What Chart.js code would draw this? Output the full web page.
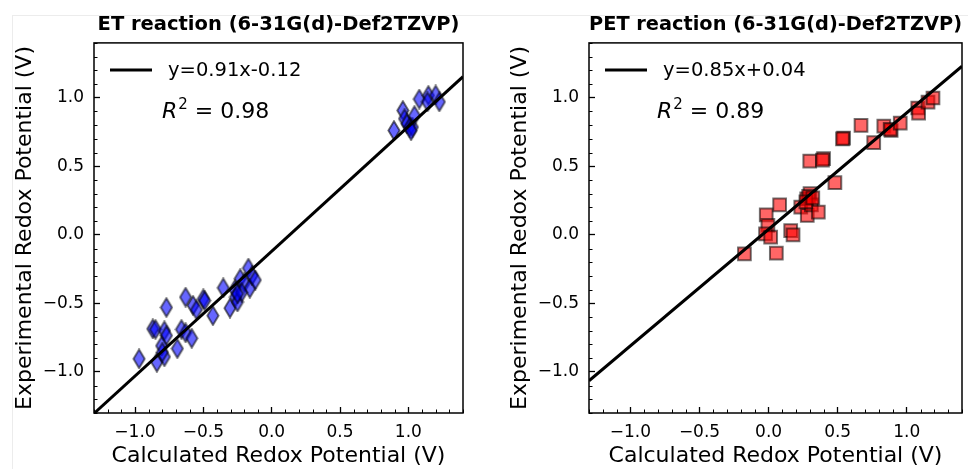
<!DOCTYPE html>
<html>
<head>
<meta charset="utf-8">
<script src="https://cdn.jsdelivr.net/npm/chart.js@4.4.1/dist/chart.umd.min.js"></script>
<style>
  html, body { margin: 0; padding: 0; background: #fff; }
  body { width: 968px; height: 469px; position: relative; overflow: hidden; }
  .frame { position: absolute; left: 12px; top: 15px; width: 970px; height: 460px; border: 1px solid #ececec; }
  .panel { position: absolute; top: 0; height: 469px; }
  #left { left: 0; width: 478px; }
  #right { left: 495px; width: 482px; }
</style>
</head>
<body>
<div class="frame"></div>
<div class="panel" id="left"><canvas id="etChart"></canvas></div>
<div class="panel" id="right"><canvas id="petChart"></canvas></div>
<script>
// Eixos (mesmos limites nos dois painéis)
const axisMin = -1.3;
const axisMax = 1.4;
const majorTicks = [-1.0, -0.5, 0.0, 0.5, 1.0];

// ET reaction: potencial calculado x experimental (V)
const etCalc = [-0.97, -0.84, -0.785, -0.87, -0.85, -0.77, -0.785, -0.77, -0.805, -0.80,
  -0.69, -0.66, -0.63, -0.585, -0.63, -0.575, -0.55, -0.50, -0.49, -0.43,
  -0.354, -0.305, -0.27, -0.265, -0.25, -0.23, -0.20, -0.17, -0.16, -0.143,
  -0.12, -0.22, -0.25,
  0.895, 0.96, 0.972, 0.99, 1.01, 1.03, 1.045, 1.02, 1.08, 1.147, 1.14, 1.20, 1.227];
const etExp = [-0.905, -0.93, -0.89, -0.686, -0.69, -0.53, -0.70, -0.735, -0.81, -0.857,
  -0.83, -0.69, -0.715, -0.755, -0.455, -0.515, -0.547, -0.467, -0.48, -0.59,
  -0.387, -0.535, -0.40, -0.455, -0.49, -0.32, -0.35, -0.243, -0.39, -0.297,
  -0.33, -0.42, -0.43,
  0.761, 0.907, 0.847, 0.81, 0.786, 0.786, 0.87, 0.76, 0.99, 1.017, 0.97, 1.02, 0.97];
const etFit = [0.91, -0.12]; // inclinação, intercepto
const etR2 = '0.98';

// PET reaction
const petCalc = [-0.175, 0.056, -0.017, -0.005, -0.022, 0.015, 0.08, 0.16, 0.177, 0.233,
  0.276, 0.30, 0.29, 0.28, 0.31, 0.36, 0.298, 0.398, 0.39, 0.48,
  0.543, 0.535, 0.669, 0.761, 0.834, 0.887, 0.88, 0.953, 1.08, 1.086,
  1.154, 1.19, 0.27, 0.32];
const petExp = [-0.139, -0.134, 0.146, 0.068, 0.007, -0.017, 0.219, 0.031, 0.0, 0.202,
  0.263, 0.30, 0.28, 0.141, 0.219, 0.166, 0.538, 0.555, 0.545, 0.38,
  0.706, 0.70, 0.798, 0.672, 0.793, 0.761, 0.77, 0.815, 0.925, 0.888,
  0.968, 0.998, 0.24, 0.27];
const petFit = [0.85, 0.04];
const petR2 = '0.89';

const FONT = 'DejaVu Sans';

function isMajor(v) {
  return majorTicks.some(m => Math.abs(m - v) < 1e-6);
}
function fmtTick(v) {
  const s = Math.abs(v).toFixed(1);
  return v < -1e-9 ? '\u2212' + s : s;
}
function fitText(fit) {
  return 'y=' + fit[0].toFixed(2) + 'x' + (fit[1] < 0 ? '-' : '+') + Math.abs(fit[1]).toFixed(2);
}

// diamante fino (marcador 'd' do matplotlib)
function diamondMarker() {
  const c = document.createElement('canvas');
  c.width = 14; c.height = 21;
  const g = c.getContext('2d');
  g.beginPath();
  g.moveTo(7, 1.2); g.lineTo(12.6, 10.5); g.lineTo(7, 19.8); g.lineTo(1.4, 10.5);
  g.closePath();
  g.fillStyle = 'rgba(0,0,255,0.6)';
  g.fill();
  g.strokeStyle = 'rgba(0,0,0,0.58)';
  g.lineWidth = 1.9;
  g.stroke();
  return c;
}

// moldura, ticks menores, legenda e R²
const panelDecor = {
  id: 'panelDecor',
  afterDatasetsDraw(chart, args, opts) {
    const a = chart.chartArea, ctx = chart.ctx;
    const xs = chart.scales.x, ys = chart.scales.y;
    ctx.save();
    ctx.strokeStyle = '#000';
    ctx.lineWidth = 1;
    ctx.beginPath();
    xs.ticks.forEach((t, i) => {
      if (isMajor(t.value)) return;
      const px = Math.round(xs.getPixelForTick(i)) + 0.5;
      ctx.moveTo(px, a.bottom); ctx.lineTo(px, a.bottom - 3.5);
    });
    ys.ticks.forEach((t, i) => {
      if (isMajor(t.value)) return;
      const py = Math.round(ys.getPixelForTick(i)) + 0.5;
      ctx.moveTo(a.left, py); ctx.lineTo(a.left + 3.5, py);
    });
    ctx.stroke();

    ctx.lineWidth = 1.5;
    ctx.strokeRect(a.left, a.top, a.right - a.left, a.bottom - a.top);

    // legenda
    ctx.lineWidth = 3;
    ctx.beginPath();
    ctx.moveTo(a.left + 16, a.top + 27);
    ctx.lineTo(a.left + 58, a.top + 27);
    ctx.stroke();
    ctx.fillStyle = '#000';
    ctx.font = '19.5px "' + FONT + '"';
    ctx.textBaseline = 'middle';
    ctx.fillText(opts.fitText, a.left + 74, a.top + 28);

    // R²
    ctx.textBaseline = 'alphabetic';
    let x = a.left + 68;
    const y = a.top + 75;
    ctx.font = 'italic 22px "' + FONT + '"';
    ctx.fillText('R', x, y);
    x += ctx.measureText('R').width + 1;
    ctx.font = '15px "' + FONT + '"';
    ctx.fillText('2', x, y - 9);
    x += ctx.measureText('2').width;
    ctx.font = '22px "' + FONT + '"';
    ctx.fillText(' = ' + opts.r2, x, y);
    ctx.restore();
  },
  afterDraw(chart) {
    const a = chart.chartArea;
    console.log(chart.canvas.id, 'area', a.left, a.top, a.right, a.bottom);
  }
};

function axisOptions(title, pos) {
  const horiz = pos === 'bottom';
  return {
    type: 'linear',
    position: pos,
    min: axisMin,
    max: axisMax,
    afterBuildTicks: scale => {
      const ticks = [];
      for (let k = Math.round(axisMin * 10); k <= Math.round(axisMax * 10); k++) ticks.push({ value: k / 10 });
      scale.ticks = ticks;
    },
    ticks: {
      autoSkip: false,
      maxRotation: 0,
      padding: horiz ? 15 : 16,
      color: '#000',
      font: { family: FONT, size: 17 },
      callback: v => isMajor(v) ? fmtTick(v) : ''
    },
    grid: {
      drawOnChartArea: false,
      drawTicks: true,
      tickLength: -6,
      tickWidth: 1.3,
      tickColor: ctx => (ctx.tick && isMajor(ctx.tick.value)) ? '#000' : 'rgba(0,0,0,0)'
    },
    border: { display: false },
    title: {
      display: true,
      text: title,
      color: '#000',
      font: { family: FONT, size: 22 },
      padding: horiz ? { top: 0, bottom: 0 } : { top: 12, bottom: 0 }
    },
    afterFit: scale => {
      if (horiz) scale.height = 56; else scale.width = 94;
    }
  };
}

function makeChart(id, title, calc, exp, fit, r2, marker, padRight) {
  const points = calc.map((x, i) => ({ x: x, y: exp[i] }));
  const fitLine = [axisMin, axisMax].map(x => ({ x: x, y: fit[0] * x + fit[1] }));
  const scatter = {
    type: 'scatter',
    data: points,
    order: 1,
    pointHoverRadius: 9
  };
  Object.assign(scatter, marker);
  new Chart(document.getElementById(id), {
    type: 'scatter',
    data: {
      datasets: [
        {
          type: 'line',
          data: fitLine,
          borderColor: '#000',
          borderWidth: 3,
          pointRadius: 0,
          fill: false,
          order: 0
        },
        scatter
      ]
    },
    options: {
      responsive: true,
      maintainAspectRatio: false,
      animation: false,
      layout: { padding: { left: 0, right: padRight, top: 0, bottom: 0 } },
      scales: {
        x: axisOptions('Calculated Redox Potential (V)', 'bottom'),
        y: axisOptions('Experimental Redox Potential (V)', 'left')
      },
      plugins: {
        legend: { display: false },
        tooltip: { enabled: true },
        title: {
          display: true,
          text: title,
          fullSize: false,
          color: '#000',
          font: { family: FONT, size: 19.5, weight: 'bold' },
          padding: { top: 13, bottom: 6.5 }
        },
        panelDecor: { fitText: fitText(fit), r2: r2 }
      }
    },
    plugins: [panelDecor]
  });
}

makeChart('etChart', 'ET reaction (6-31G(d)-Def2TZVP)', etCalc, etExp, etFit, etR2,
  { pointStyle: diamondMarker(), pointRadius: 10 }, 8);

makeChart('petChart', 'PET reaction (6-31G(d)-Def2TZVP)', petCalc, petExp, petFit, petR2,
  { pointStyle: 'rect', pointRadius: 9, backgroundColor: 'rgba(255,0,0,0.6)',
    borderColor: 'rgba(0,0,0,0.55)', borderWidth: 2 }, 6);
</script>
</body>
</html>
